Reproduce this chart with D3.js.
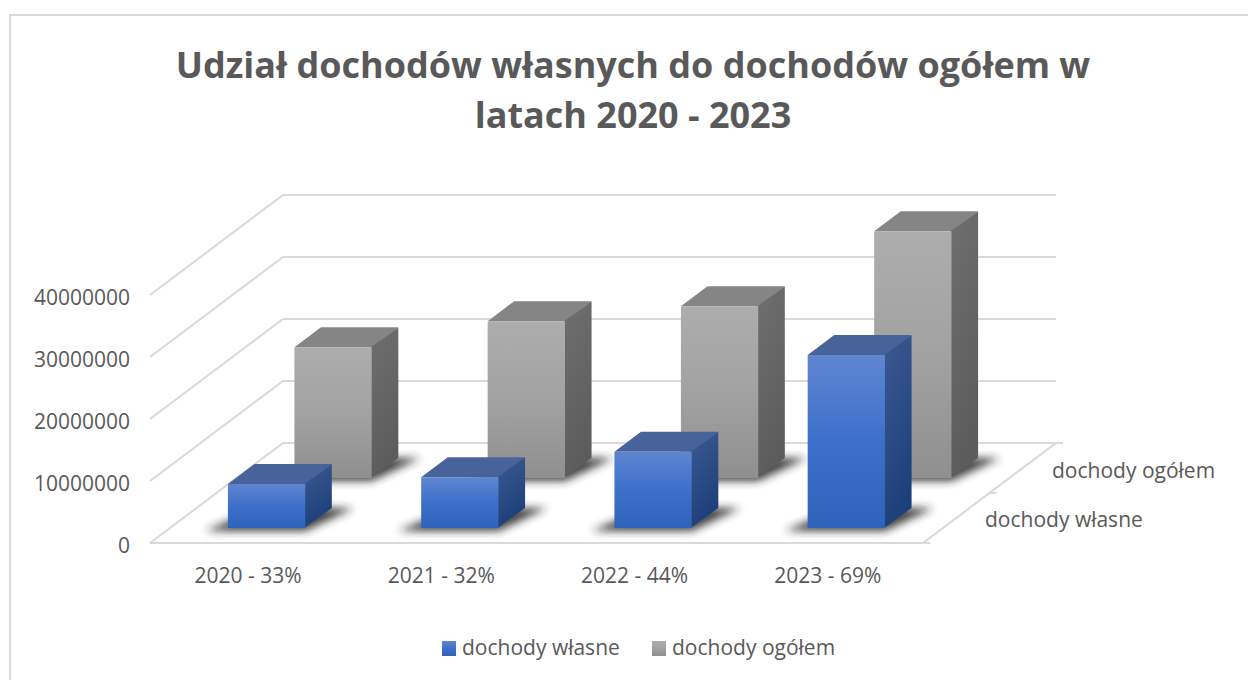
<!DOCTYPE html>
<html><head><meta charset="utf-8">
<script src="https://cdn.jsdelivr.net/npm/d3@7/dist/d3.min.js"></script>
<style>html,body{margin:0;padding:0;background:#fff}svg{display:block}text{font-family:"Open Sans",sans-serif;fill:#595959}</style>
</head><body><svg id="c" width="1248" height="680"></svg>
<script>
const categories = ["2020 - 33%","2021 - 32%","2022 - 44%","2023 - 69%"];
const seriesNames = ["dochody własne","dochody ogółem"];
const wlasne = [7100000,8200000,12300000,27900000];
const ogolem = [21100000,25300000,27700000,39800000];
const yTicks = [0,10000000,20000000,30000000,40000000];
const titleLines = ["Udział dochodów własnych do dochodów ogółem w","latach 2020 - 2023"];
const seriesValues = [wlasne, ogolem];

const svg = d3.select("#c");
const defs = svg.append("defs");
function grad(id,stops,x2=0,y2=1){
  const g=defs.append("linearGradient").attr("id",id).attr("x1",0).attr("y1",0).attr("x2",x2).attr("y2",y2);
  stops.forEach(([o,c])=>g.append("stop").attr("offset",o).attr("stop-color",c));
}
grad("bf",[[0,"#6085d0"],[.5,"#3d70cb"],[1,"#2f62b8"]]);
grad("bs",[[0,"#3c5a92"],[1,"#1d3f7a"]],.3,1);
grad("gf",[[0,"#adadad"],[.5,"#a2a2a2"],[1,"#8f8f8f"]]);
grad("gs",[[0,"#6f6f6f"],[1,"#5c5c5c"]],.3,1);
defs.append("filter").attr("id","blur").attr("x","-30%").attr("y","-60%").attr("width","160%").attr("height","220%")
  .append("feGaussianBlur").attr("stdDeviation",4);
const fills=[{f:"url(#bf)",s:"url(#bs)",t:"#48639a"},{f:"url(#gf)",s:"url(#gs)",t:"#858585"}];

svg.append("path").attr("d","M10,690V15H1260").attr("fill","none").attr("stroke","#d9d9d9").attr("stroke-width",2);

// oblique projection
const X0=150,Y0=543,SK=1.33;
const x=d3.scaleBand().domain(categories).range([0,773]).paddingInner(.6).paddingOuter(.3);
const dep=d3.scaleBand().domain(seriesNames).range([0,100]).paddingInner(.6).paddingOuter(.3);
const y=d3.scaleLinear().domain([0,40000000]).range([0,248]);
const P=(a,d,h)=>[X0+a+d*SK,Y0-d-h];
const poly=pts=>pts.map(p=>p.join(",")).join(" ");
const G="#d9d9d9";
function line(a,b,w=2){svg.append("line").attr("x1",a[0]).attr("y1",a[1]).attr("x2",b[0]).attr("y2",b[1]).attr("stroke",G).attr("stroke-width",w);}

yTicks.forEach(t=>{
  const h=y(t);
  line(P(0,0,h),P(0,100,h));
  line(P(0,100,h),P(773,100,h));
});
line(P(0,0,0),P(780,0,0));
line(P(773,0,0),P(773,100,0));
line(P(773,100,0),P(780,100,0));
line(P(773,50,0),P(780,50,0));

// y axis
const yAxisScale=d3.scaleLinear().domain(y.domain()).range([Y0+2,Y0+2-248]);
const ax=svg.append("g").attr("transform","translate(130,0)").call(d3.axisLeft(yAxisScale).tickValues(yTicks).tickFormat(d3.format("d")).tickSize(0).tickPadding(0));
ax.select(".domain").remove();
ax.selectAll("text").style("font-size","21px").attr("dy","0.35em");

// bars: back series first
[1,0].forEach(si=>{
  const s=seriesNames[si];
  const d0=dep(s),d1=d0+dep.bandwidth(),vals=seriesValues[si],c=fills[si];
  categories.forEach((cat,i)=>{
    const a0=x(cat),a1=a0+x.bandwidth();
    svg.append("polygon").attr("fill","#222").attr("opacity",.85).attr("filter","url(#blur)")
      .attr("points",poly([P(a0-19,d0-3,0),P(a1+4,d0-3,0),P(a1+22,d1,0),P(a0+5,d1,0)]));
  });
  categories.forEach((cat,i)=>{
    const a0=x(cat),a1=a0+x.bandwidth(),h=y(vals[i]);
    const g=svg.append("g");
    g.append("polygon").attr("fill",c.t).attr("points",poly([P(a0,d0,h),P(a1,d0,h),P(a1,d1,h),P(a0,d1,h)]));
    g.append("polygon").attr("fill",c.s).attr("points",poly([P(a1-1,d0,0),P(a1,d1,0),P(a1,d1,h),P(a1-1,d0,h)]));
    g.append("polygon").attr("fill",c.f).attr("points",poly([P(a0,d0,0),P(a1,d0,0),P(a1,d0,h),P(a0,d0,h)]));
  });
});

// category axis labels
const xAxisScale=d3.scaleBand().domain(categories).range([X0,X0+773]);
const xa=svg.append("g").attr("transform","translate(1.5,583)").call(d3.axisBottom(xAxisScale).tickSize(0).tickPadding(0));
xa.select(".domain").remove();
xa.selectAll("text").style("font-size","21px").attr("dy","0").attr("y",0);

// series axis labels
seriesNames.forEach((s,i)=>{
  svg.append("text").attr("x",i?1052:985).attr("y",i?478:527).style("font-size","21px").text(s);
});

// title
svg.append("g").selectAll("text").data(titleLines).join("text")
  .attr("x",633).attr("y",(d,i)=>78+i*50).attr("text-anchor","middle")
  .style("font-size","36px").style("font-weight","700").text(d=>d);

// legend
const lx=[442,652],ltx=[462,672];
seriesNames.forEach((s,i)=>{
  svg.append("rect").attr("x",lx[i]).attr("y",641).attr("width",14).attr("height",15).attr("fill",i?"url(#gf)":"url(#bf)");
  svg.append("text").attr("x",ltx[i]).attr("y",655).style("font-size","21px").text(s);
});
</script></body></html>
